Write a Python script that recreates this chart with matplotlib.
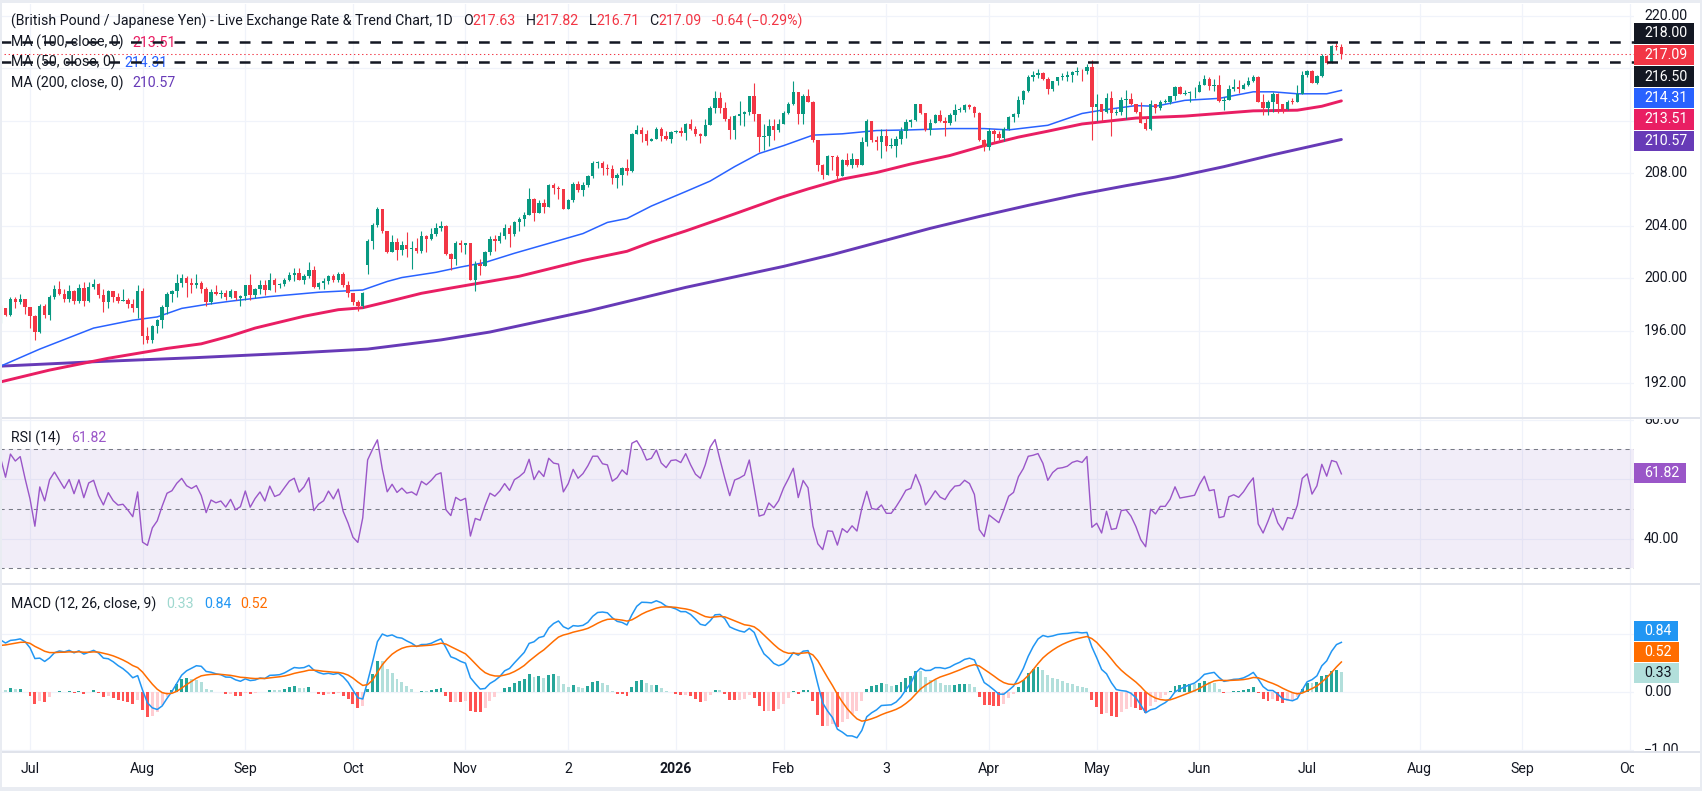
import numpy as np
import pandas as pd
import matplotlib
matplotlib.use("Agg")
import matplotlib.pyplot as plt
from matplotlib.patches import Rectangle

plt.rcParams["font.family"] = ["Roboto", "DejaVu Sans"]

W, H = 1702, 791
DARK = "#131722"
UP, DOWN = "#089981", "#F23645"
GRID = "#F0F3FA"
SEP = "#E0E3EB"
FS = 10.2

# daily GBP/JPY candles, bar 0 = 2025-06-23 (business days)
start_day = "2025-06-23"
closes = [
    197.70, 197.20, 198.40, 198.20, 198.45, 197.80, 197.10, 195.90, 197.90, 197.20,
    198.60, 199.20, 198.80, 198.40, 199.00, 198.30, 199.25, 198.30, 199.35, 199.55,
    198.75, 198.20, 199.00, 198.55, 198.30, 198.35, 198.05, 197.70, 199.05, 195.60,
    195.30, 196.35, 196.80, 197.80, 198.80, 199.00, 199.60, 200.00, 199.60, 199.45,
    199.65, 199.15, 198.20, 198.95, 198.80, 198.90, 198.60, 199.00, 198.50, 198.65,
    199.45, 198.70, 199.15, 199.50, 199.10, 199.90, 199.45, 199.55, 199.90, 200.25,
    200.40, 199.90, 200.15, 200.60, 199.30, 199.60, 199.75, 200.20, 199.90, 200.35,
    199.45, 198.90, 198.15, 197.85, 198.85, 202.85, 204.05, 205.30, 203.60, 202.00,
    202.75, 202.15, 202.55, 202.20, 202.30, 202.10, 203.20, 203.00, 203.35, 203.80,
    203.95, 201.85, 201.45, 202.70, 202.50, 202.65, 199.90, 201.10, 200.95, 202.00,
    203.00, 202.80, 203.20, 203.80, 203.40, 204.25, 204.50, 204.85, 206.00, 204.95,
    205.70, 205.40, 207.10, 206.85, 206.80, 205.30, 205.95, 207.20, 206.70, 207.10,
    207.80, 208.75, 208.75, 208.40, 208.35, 207.60, 207.85, 208.40, 208.20, 211.00,
    211.30, 210.95, 210.45, 210.60, 211.35, 210.80, 210.60, 211.15, 211.20, 211.10,
    211.75, 211.35, 211.00, 210.85, 211.65, 213.00, 213.70, 212.95, 212.15, 211.30,
    212.35, 212.50, 212.70, 213.85, 212.50, 210.75, 210.85, 211.60, 211.30, 211.75,
    212.60, 213.30, 214.15, 212.50, 213.90, 213.45, 210.50, 208.60, 207.90, 209.30,
    209.25, 207.75, 209.00, 208.60, 209.10, 208.60, 210.40, 212.00, 210.50, 210.40,
    210.80, 210.10, 210.10, 210.60, 211.20, 211.90, 212.05, 213.25, 212.55, 211.30,
    211.80, 212.40, 212.00, 211.85, 212.40, 212.80, 212.85, 213.20, 213.05, 212.55,
    210.50, 210.00, 211.20, 210.95, 210.70, 211.40, 212.25, 212.50, 213.60, 214.25,
    215.35, 215.45, 215.60, 215.20, 214.45, 215.00, 215.30, 215.35, 215.45, 215.70,
    215.80, 215.75, 216.10, 213.05, 213.25, 212.65, 213.75, 212.60, 212.65, 213.60,
    213.65, 213.30, 212.70, 211.85, 211.35, 213.30, 213.00, 213.45, 213.45, 213.85,
    214.60, 214.05, 214.10, 214.15, 214.20, 214.75, 215.20, 214.65, 214.70, 213.50,
    213.55, 214.45, 214.55, 214.45, 214.70, 215.05, 215.35, 213.45, 212.95, 213.45,
    214.05, 213.30, 212.90, 213.45, 213.40, 214.00, 215.50, 215.80, 214.90, 215.40,
    216.95, 216.40, 217.70, 217.63, 217.09,
]
highs = [
    197.95, 197.75, 198.60, 198.60, 198.80, 198.40, 197.80, 197.20, 198.00, 198.05,
    198.70, 199.45, 199.80, 199.20, 199.45, 199.10, 199.55, 199.70, 199.70, 199.95,
    199.60, 199.20, 199.10, 199.05, 198.90, 199.20, 198.50, 198.45, 199.50, 199.25,
    196.30, 196.40, 196.90, 197.95, 198.95, 199.10, 200.30, 200.30, 200.20, 200.00,
    200.30, 199.80, 199.35, 199.20, 199.45, 199.10, 199.10, 199.20, 198.95, 198.70,
    199.50, 200.30, 199.25, 199.90, 199.85, 200.40, 200.00, 199.60, 200.00, 200.50,
    200.75, 200.80, 200.30, 201.25, 200.95, 199.70, 200.00, 200.25, 200.35, 200.50,
    200.45, 199.75, 198.85, 198.35, 198.95, 202.95, 204.20, 205.40, 204.95, 203.60,
    203.30, 203.05, 202.85, 203.55, 202.80, 203.10, 203.60, 203.30, 203.80, 204.20,
    204.35, 204.05, 201.95, 202.80, 202.90, 202.70, 202.70, 201.30, 201.45, 202.10,
    203.20, 203.30, 203.50, 204.15, 204.05, 204.35, 204.70, 205.05, 206.90, 206.10,
    205.95, 206.00, 207.15, 207.25, 207.00, 206.70, 206.00, 207.35, 207.40, 207.35,
    207.85, 208.95, 208.95, 208.90, 208.70, 208.60, 208.00, 208.50, 209.10, 211.05,
    211.70, 211.50, 211.30, 210.65, 211.55, 211.50, 211.20, 211.25, 211.30, 211.50,
    211.85, 212.15, 211.60, 211.10, 212.10, 213.15, 214.30, 214.15, 213.40, 212.35,
    212.40, 213.50, 212.75, 213.90, 214.85, 212.35, 211.75, 212.10, 212.10, 212.10,
    212.75, 213.45, 215.00, 214.20, 214.05, 214.40, 213.50, 210.55, 208.70, 209.35,
    209.30, 209.35, 209.10, 209.55, 209.55, 209.10, 210.75, 212.15, 212.00, 210.85,
    211.35, 211.35, 210.70, 210.80, 211.50, 212.10, 212.15, 213.30, 213.25, 212.60,
    212.15, 212.50, 212.80, 212.25, 212.60, 213.30, 213.05, 213.25, 213.30, 213.15,
    212.65, 210.60, 211.45, 211.35, 211.20, 211.50, 212.35, 212.55, 213.90, 214.35,
    215.45, 215.75, 215.95, 215.70, 215.35, 215.05, 215.35, 215.60, 215.75, 215.75,
    216.10, 215.95, 216.30, 216.60, 214.05, 213.25, 214.10, 214.30, 212.90, 213.80,
    214.35, 214.10, 213.20, 213.40, 212.25, 213.55, 213.30, 213.60, 213.65, 213.90,
    214.65, 214.65, 214.35, 214.30, 214.60, 215.00, 215.50, 215.35, 215.15, 215.50,
    213.80, 214.70, 215.15, 215.10, 214.85, 215.35, 215.50, 215.40, 214.00, 213.55,
    214.20, 214.10, 213.15, 213.55, 213.70, 214.70, 215.75, 215.90, 215.90, 215.50,
    217.10, 217.00, 217.75, 217.90, 217.82,
]
lows = [
    196.60, 197.10, 197.10, 197.70, 198.00, 197.30, 196.20, 195.30, 195.80, 197.00,
    196.80, 198.40, 198.75, 198.20, 198.20, 198.05, 198.10, 197.90, 198.20, 199.15,
    198.50, 197.45, 197.70, 198.20, 198.10, 198.30, 197.70, 197.40, 196.95, 195.00,
    195.05, 195.05, 195.85, 196.20, 197.30, 198.20, 198.60, 199.30, 198.60, 198.90,
    199.25, 198.90, 197.90, 198.00, 198.75, 198.50, 198.35, 198.50, 198.35, 197.85,
    198.35, 198.35, 198.50, 198.80, 198.70, 199.50, 198.95, 199.25, 199.40, 199.75,
    199.80, 199.85, 199.55, 200.00, 199.25, 199.20, 199.20, 199.55, 199.70, 199.70,
    199.35, 198.60, 197.95, 197.50, 197.70, 200.30, 202.20, 203.90, 203.45, 201.90,
    202.55, 201.40, 201.75, 201.65, 200.70, 201.90, 201.90, 202.00, 202.90, 203.20,
    203.60, 201.80, 200.65, 201.00, 202.00, 201.85, 199.85, 199.05, 200.25, 200.95,
    201.80, 202.05, 202.65, 203.00, 202.35, 203.20, 203.60, 203.95, 204.80, 204.35,
    204.95, 205.00, 205.45, 206.45, 206.05, 205.25, 205.30, 205.80, 206.60, 206.30,
    206.95, 207.60, 208.40, 207.90, 207.90, 207.15, 206.90, 207.10, 207.90, 208.10,
    211.00, 210.40, 210.15, 210.50, 210.60, 210.45, 210.55, 210.30, 211.10, 210.80,
    210.55, 211.30, 210.85, 210.30, 210.85, 211.70, 212.60, 212.60, 212.00, 210.60,
    210.60, 211.70, 211.60, 212.45, 212.00, 209.60, 209.80, 210.05, 210.50, 211.15,
    211.80, 212.50, 213.20, 211.75, 211.75, 213.40, 210.40, 208.20, 207.55, 207.85,
    208.25, 207.40, 207.75, 208.55, 208.40, 208.50, 208.60, 210.10, 210.35, 209.80,
    209.15, 209.70, 209.90, 209.20, 210.25, 210.65, 211.55, 212.00, 212.50, 211.20,
    210.90, 211.80, 211.90, 210.80, 211.65, 212.00, 212.65, 212.65, 212.90, 212.30,
    210.45, 209.70, 209.80, 210.30, 210.50, 210.45, 211.30, 211.90, 212.30, 213.30,
    214.20, 215.00, 215.25, 215.10, 214.05, 214.25, 214.75, 215.10, 215.00, 214.95,
    215.50, 215.00, 215.55, 210.50, 212.00, 212.00, 212.60, 210.80, 212.40, 212.40,
    212.10, 213.20, 212.60, 211.80, 211.30, 211.30, 212.60, 212.85, 213.35, 213.30,
    213.55, 214.05, 213.95, 213.45, 213.70, 214.20, 214.70, 214.35, 214.30, 213.45,
    212.85, 213.55, 214.30, 214.10, 214.40, 214.65, 214.95, 213.40, 212.40, 212.40,
    212.65, 212.60, 212.55, 212.80, 213.30, 213.45, 214.00, 215.35, 214.90, 214.80,
    215.30, 216.35, 216.40, 217.35, 216.71,
]
first_open = 197.00
gap_opens = {75: 201.00}

# moving averages (bar index, value)
ma50_at = [0, 8, 19, 27, 32, 37, 42, 47, 55, 65, 74, 79, 82, 89, 94, 99, 105, 112,
           119, 124, 128, 133, 140, 145, 150, 155, 160, 166, 172, 179, 186, 194, 201,
           206, 214, 221, 225, 232, 236, 242, 249, 256, 260, 265, 271, 274]
ma50 = [193.3, 194.6, 196.2, 196.8, 197.05, 197.7, 198.0, 198.25, 198.6, 198.93,
        199.1, 199.75, 200.05, 200.45, 200.85, 201.2, 201.9, 202.65, 203.4, 204.25,
        204.55, 205.5, 206.6, 207.4, 208.5, 209.5, 210.1, 210.9, 211.0, 211.25, 211.3,
        211.4, 211.4, 211.3, 211.65, 212.55, 212.8, 213.15, 213.1, 213.55, 213.7,
        214.2, 214.2, 214.05, 214.05, 214.31]
ma100_at = [0, 10, 22, 34, 41, 47, 52, 62, 69, 74, 79, 86, 92, 99, 106, 112, 119,
            128, 133, 140, 150, 159, 165, 172, 179, 186, 194, 201, 208, 214, 221,
            232, 242, 249, 256, 265, 270, 274]
ma100 = [192.1, 193.0, 193.9, 194.65, 195.0, 195.6, 196.2, 197.1, 197.6, 197.75,
         198.2, 198.85, 199.25, 199.7, 200.15, 200.7, 201.35, 202.05, 202.75, 203.6,
         204.9, 206.1, 206.8, 207.55, 208.05, 208.7, 209.35, 210.1, 210.75, 211.2,
         211.75, 212.2, 212.35, 212.55, 212.75, 212.8, 213.1, 213.51]
ma200_at = [0, 20, 40, 60, 75, 90, 100, 110, 120, 130, 140, 150, 160, 170, 180, 190,
            200, 210, 220, 230, 240, 250, 260, 274]
ma200 = [193.3, 193.65, 193.95, 194.3, 194.6, 195.3, 195.9, 196.7, 197.5, 198.4,
         199.3, 200.1, 200.9, 201.8, 202.8, 203.8, 204.7, 205.55, 206.35, 207.05,
         207.7, 208.5, 209.4, 210.57]

last_ohlc = ["217.63", "217.82", "216.71", "217.09"]
last_change = "-0.64 (\u22120.29%)"
marker_levels = [218.00, 216.50]
last_close = 217.09
ma_last = {"50": "214.31", "100": "213.51", "200": "210.57"}
rsi_last = "61.82"
macd_last, signal_last, hist_last = "0.84", "0.52", "0.33"

# scale labels that stay visible (the others sit under value boxes)
price_ticks = [192, 196, 200, 204, 208, 212, 216, 220]
price_labels = [192, 196, 200, 204, 208, 220]
rsi_ticks = [40, 60, 80]
rsi_labels = [40, 80]
macd_ticks = [-1, 0, 1]
macd_labels = [-1, 0]
month_dates = ["2025-07-01", "2025-08-01", "2025-09-01", "2025-10-01", "2025-11-03",
               "2025-12-02", "2026-01-01", "2026-02-02", "2026-03-03", "2026-04-01",
               "2026-05-01", "2026-06-01", "2026-07-01", "2026-08-03", "2026-09-01",
               "2026-10-01"]
month_labels = ["Jul", "Aug", "Sep", "Oct", "Nov", "2", "2026", "Feb", "3", "Apr",
                "May", "Jun", "Jul", "Aug", "Sep", "Oct"]

# ---- series
c = np.array(closes)
o = np.r_[first_open, c[:-1]]
for k, v in gap_opens.items():
    o[k] = v
h = np.maximum(np.array(highs), np.maximum(o, c))
l = np.minimum(np.array(lows), np.minimum(o, c))
n = len(c)
x = np.arange(n)

# RSI(14), Wilder smoothing
chg = np.diff(np.r_[first_open, c])
ag, al = 0.21, 0.13
rsi = []
for d in chg:
    ag = (ag * 13 + max(d, 0)) / 14
    al = (al * 13 + max(-d, 0)) / 14
    rsi.append(100 - 100 / (1 + ag / al))

# MACD(12, 26, 9)
e12, e26, sig = 196.9, 196.0, 0.78
macd, signal = [], []
for v in c:
    e12 += (v - e12) * 2 / 13
    e26 += (v - e26) * 2 / 27
    m = e12 - e26
    sig += (m - sig) * 2 / 10
    macd.append(m)
    signal.append(sig)
macd = np.array(macd)
signal = np.array(signal)
hist = macd - signal

dates = pd.bdate_range(start_day, periods=340)
month_pos = [int(dates.searchsorted(pd.Timestamp(d))) for d in month_dates]

# ---- figure
fig = plt.figure(figsize=(W / 100, H / 100), dpi=100)
fig.patch.set_facecolor("white")
rend = fig.canvas.get_renderer()
XL = (-0.131, 333.8)


def px_axes(x0, y0, x1, y1):
    a = fig.add_axes([x0 / W, 1 - y1 / H, (x1 - x0) / W, (y1 - y0) / H])
    a.set_axis_off()
    return a


def frect(x0, y0, x1, y1, color):
    fig.add_artist(Rectangle((x0 / W, 1 - y1 / H), (x1 - x0) / W, (y1 - y0) / H,
                             transform=fig.transFigure, fc=color, ec="none", zorder=10))


def seq_text(ax, x0, y0, parts):
    xx = x0
    for s, col, gap, wt in parts:
        xx += gap
        t = ax.text(xx / W, 1 - y0 / H, s, color=col, fontsize=FS, fontweight=wt,
                    ha="left", va="center", transform=fig.transFigure, zorder=2)
        xx += t.get_window_extent(renderer=rend).width


def vgrid(a):
    for p in month_pos:
        a.axvline(p, color=GRID, lw=0.9, zorder=0)


# main pane
ax = px_axes(0, 4, 1634, 417)
ax.set_xlim(XL)
ax.set_ylim(189.425, 220.891)
vgrid(ax)
for t in price_ticks:
    ax.axhline(t, color=GRID, lw=0.9, zorder=0)
cols = np.where(c >= o, UP, DOWN)
ax.vlines(x, l, h, colors=cols, lw=0.8, zorder=3)
ax.bar(x, np.maximum(np.abs(c - o), 0.07), bottom=np.minimum(o, c), width=0.7,
       color=cols, lw=0, zorder=3)
ax.plot(ma200_at, ma200, color="#673AB7", lw=2.1, zorder=2, solid_capstyle="round")
ax.plot(ma100_at, ma100, color="#E91E63", lw=2.1, zorder=2, solid_capstyle="round")
ax.plot(ma50_at, ma50, color="#2962FF", lw=1.1, zorder=2)
for lev in marker_levels:
    ax.axhline(lev, color=DARK, lw=1.8, ls=(0, (4.3, 4.4)), zorder=6)
ax.axhline(last_close, color=DOWN, lw=0.75, ls=(0, (1.3, 2.6)), zorder=6)

seq_text(ax, 11, 21, [
    ("(British Pound / Japanese Yen) - Live Exchange Rate & Trend Chart, 1D", DARK, 0, "normal"),
    ("O", DARK, 10, "normal"), (last_ohlc[0], DOWN, 0, "normal"),
    ("H", DARK, 10, "normal"), (last_ohlc[1], DOWN, 0, "normal"),
    ("L", DARK, 10, "normal"), (last_ohlc[2], DOWN, 0, "normal"),
    ("C", DARK, 10, "normal"), (last_ohlc[3], DOWN, 0, "normal"),
    (last_change, DOWN, 10, "normal"),
])
seq_text(ax, 11, 42.7, [("MA (100, close, 0)", DARK, 0, "normal"), (ma_last["100"], "#E91E63", 9, "normal")])
seq_text(ax, 11, 62.7, [("MA (50, close, 0)", DARK, 0, "normal"), (ma_last["50"], "#2962FF", 9, "normal")])
seq_text(ax, 11, 83.3, [("MA (200, close, 0)", DARK, 0, "normal"), (ma_last["200"], "#673AB7", 9, "normal")])

# RSI pane
RSI_C = "#9A56C8"
ar = px_axes(0, 419, 1634, 583)
ar.set_xlim(XL)
ar.set_ylim(25.06, 80.18)
vgrid(ar)
for t in rsi_ticks:
    ar.axhline(t, color=GRID, lw=0.9, zorder=0)
ar.axhspan(30, 70, color="#7E57C2", alpha=0.1, lw=0, zorder=1)
for lev in (70, 50, 30):
    ar.axhline(lev, color="#787B86", lw=0.75, ls=(0, (4, 4)), zorder=2)
ar.plot(x, rsi, color=RSI_C, lw=1.0, zorder=3)
seq_text(ar, 11, 438, [("RSI (14)", DARK, 0, "normal"), (rsi_last, RSI_C, 11, "normal")])

# MACD pane
am = px_axes(0, 585, 1634, 752)
am.set_xlim(XL)
am.set_ylim(-1.034, 1.845)
vgrid(am)
for t in macd_ticks:
    am.axhline(t, color=GRID, lw=0.9, zorder=0)
prev = np.r_[hist[0], hist[:-1]]
hcol = np.where(hist >= 0, np.where(hist > prev, "#26A69A", "#B2DFDB"),
                np.where(hist > prev, "#FFCDD2", "#FF5252"))
am.bar(x, hist, width=0.6, color=hcol, lw=0, zorder=2)
am.plot(x, macd, color="#2196F3", lw=1.1, zorder=3)
am.plot(x, signal, color="#FF6D00", lw=1.1, zorder=3)
seq_text(am, 11, 604, [("MACD (12, 26, close, 9)", DARK, 0, "normal"),
                       (hist_last, "#9FD8CF", 10, "normal"),
                       (macd_last, "#2196F3", 10, "normal"),
                       (signal_last, "#FF6D00", 9, "normal")])


# right scale columns
def right_axes(y0, y1):
    a = px_axes(1634, y0, 1702, y1)
    a.set_xlim(1634, 1702)
    a.set_ylim(y1, y0)
    return a


def tick_label(a, yc, s):
    a.text(1644, yc, s, color=DARK, fontsize=FS, ha="left", va="center",
           clip_on=True, zorder=3)


def label_box(a, yc, s, fc, tc="white"):
    t = a.text(1644, yc, s, color=tc, fontsize=FS, ha="left", va="center", zorder=5)
    w = t.get_window_extent(renderer=rend).width
    a.add_patch(Rectangle((1634, yc - 10.3), w + 17, 20.6, fc=fc, ec="none", zorder=4))


rp = right_axes(4, 417)
for t in price_labels:
    tick_label(rp, 15.7 + (220 - t) * 13.125, f"{t:.2f}")
label_box(rp, 33.3, f"{marker_levels[0]:.2f}", DARK)
label_box(rp, 55.0, f"{last_close:.2f}", DOWN)
label_box(rp, 76.7, f"{marker_levels[1]:.2f}", DARK)
label_box(rp, 98.0, ma_last["50"], "#2962FF")
label_box(rp, 119.3, ma_last["100"], "#E91E63")
label_box(rp, 141.0, ma_last["200"], "#673AB7")

rr = right_axes(419, 583)
for t in rsi_labels:
    tick_label(rr, 449.3 + (70 - t) * 2.975, f"{t:.2f}")
label_box(rr, 473.0, rsi_last, RSI_C)

rm = right_axes(585, 752)
for t in macd_labels:
    tick_label(rm, 692 - t * 58, f"{t:.2f}".replace("-", "\u2212"))
label_box(rm, 631.0, macd_last, "#2196F3")
label_box(rm, 652.0, signal_last, "#FF6D00")
label_box(rm, 673.0, hist_last, "#B2DFDB", DARK)

# time scale
ad = px_axes(0, 753, 1634, 786)
ad.set_xlim(XL)
ad.set_ylim(786, 753)
for p, s in zip(month_pos, month_labels):
    ad.text(p, 769.5, s, color=DARK, fontsize=FS, ha="center", va="center",
            fontweight="bold" if s == "2026" else "normal", clip_on=True)

# separators and frame
frect(0, 417, 1702, 419, SEP)
frect(0, 583, 1702, 585, SEP)
frect(0, 751, 1702, 753, SEP)
frect(0, 0, 1702, 3, "#E9ECF2")
frect(0, 787, 1702, 791, "#E9ECF2")
frect(0, 0, 1.5, 791, "#E9ECF2")
frect(1700, 0, 1702, 791, "#E9ECF2")

fig.savefig("out.png", dpi=100)
